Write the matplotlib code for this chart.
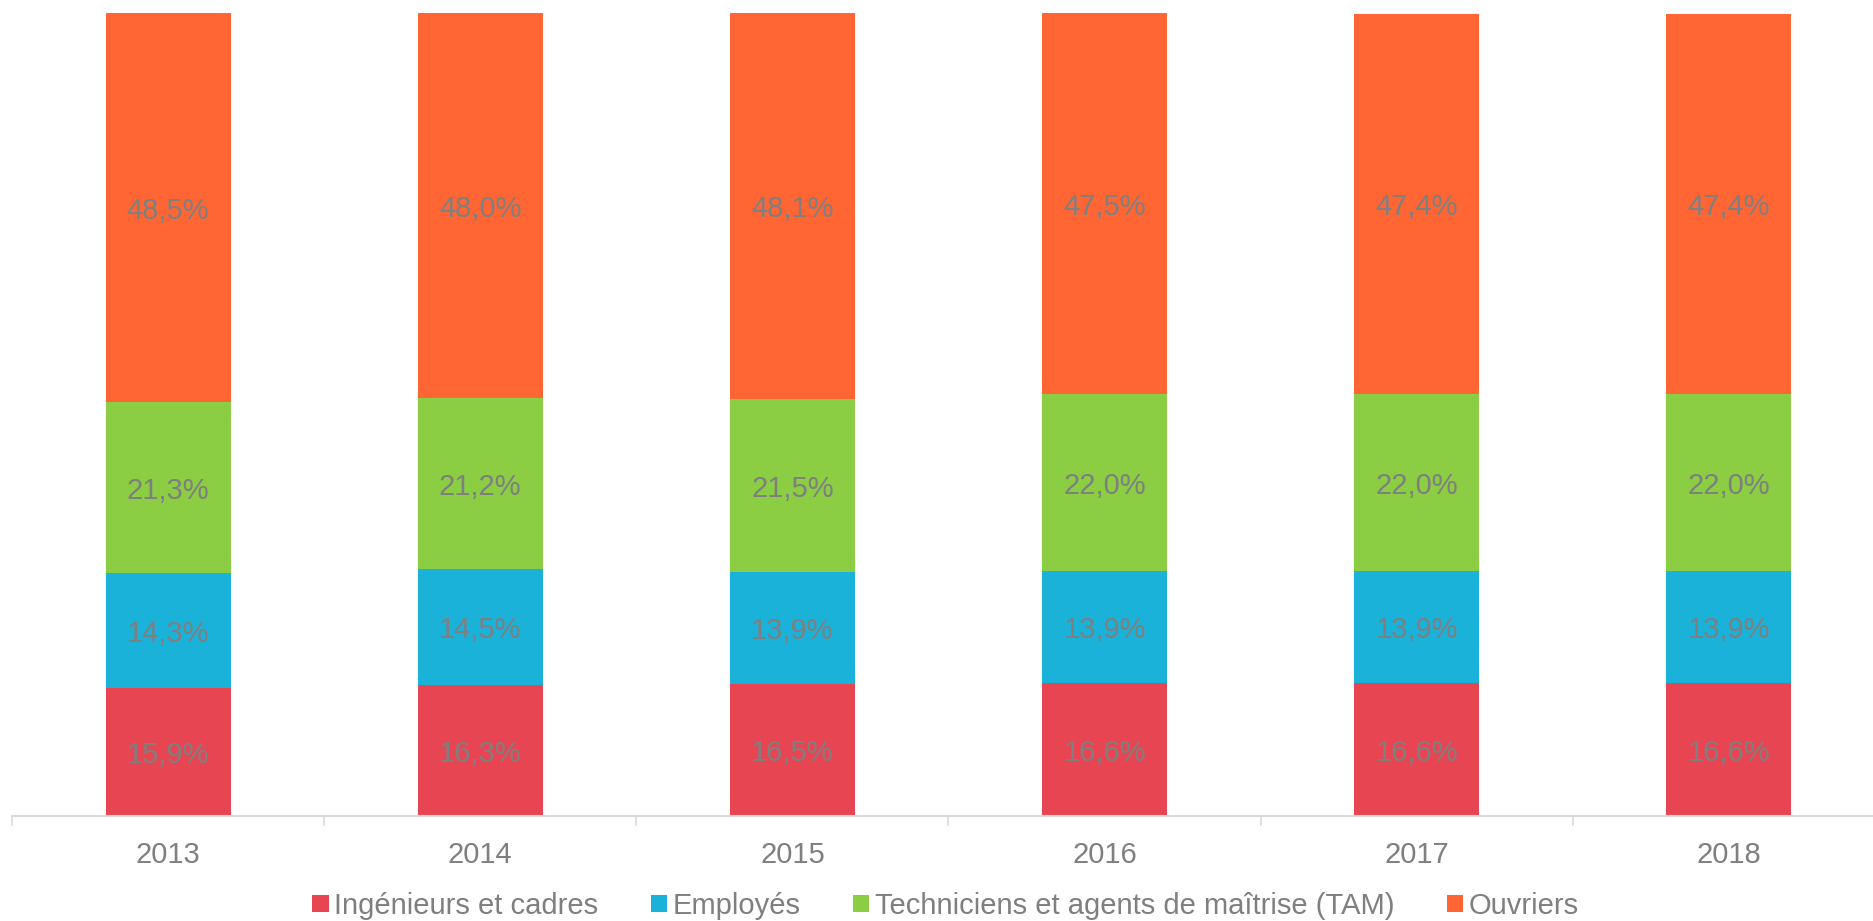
import matplotlib
matplotlib.use("Agg")
import matplotlib.pyplot as plt
import numpy as np
from matplotlib.ticker import FixedLocator

years = ["2013", "2014", "2015", "2016", "2017", "2018"]
series_names = ["Ingénieurs et cadres", "Employés",
                "Techniciens et agents de maîtrise (TAM)", "Ouvriers"]
ingenieurs = [15.9, 16.3, 16.5, 16.6, 16.6, 16.6]
employes = [14.3, 14.5, 13.9, 13.9, 13.9, 13.9]
tam = [21.3, 21.2, 21.5, 22.0, 22.0, 22.0]
ouvriers = [48.5, 48.0, 48.1, 47.5, 47.4, 47.4]
colors = ["#E84553", "#1BB2DA", "#8BCE43", "#FF6633"]

plt.rcParams['font.family'] = ['Liberation Sans', 'DejaVu Sans']

W, H = 1873, 921
fig = plt.figure(figsize=(W / 100, H / 100), dpi=100)
ax = fig.add_axes([12 / W, (H - 816) / H, (1885 - 12) / W, 803 / H])

x = np.arange(len(years))
bottom = np.zeros(len(years))
data = [ingenieurs, employes, tam, ouvriers]
handles = []
for name, vals, c in zip(series_names, data, colors):
    vals = np.array(vals)
    b = ax.bar(x, vals, 0.4, bottom=bottom, color=c, label=name, linewidth=0)
    handles.append(b)
    for xi, v, bt in zip(x, vals, bottom):
        ax.text(xi, bt + v / 2 - 0.4, f"{v:.1f}%".replace(".", ","), ha="center",
                va="center", fontsize=21, color="#7F7F7F")
    bottom += vals

ax.set_xlim(-0.5, 5.5)
ax.set_ylim(0, 100)
ax.set_yticks([])
for s in ["left", "top", "right"]:
    ax.spines[s].set_visible(False)
ax.spines["bottom"].set_color("#D9D9D9")
ax.spines["bottom"].set_linewidth(1.5)
ax.set_xticks(x)
ax.set_xticklabels(years, fontsize=21, color="#7F7F7F")
ax.tick_params(axis="x", which="major", length=0, pad=18)
ax.xaxis.set_minor_locator(FixedLocator(np.arange(-0.5, 6.0, 1.0)))
ax.tick_params(axis="x", which="minor", length=7, color="#D9D9D9", width=1.2)

leg = fig.legend(handles=handles, loc="center", bbox_to_anchor=(0.505, 1 - 906 / H),
                 ncol=4, frameon=False, fontsize=21, handlelength=0.55,
                 handleheight=0.55, handletextpad=0.2, columnspacing=1.8)
for t in leg.get_texts():
    t.set_color("#7F7F7F")

fig.savefig("out.png", dpi=100)
